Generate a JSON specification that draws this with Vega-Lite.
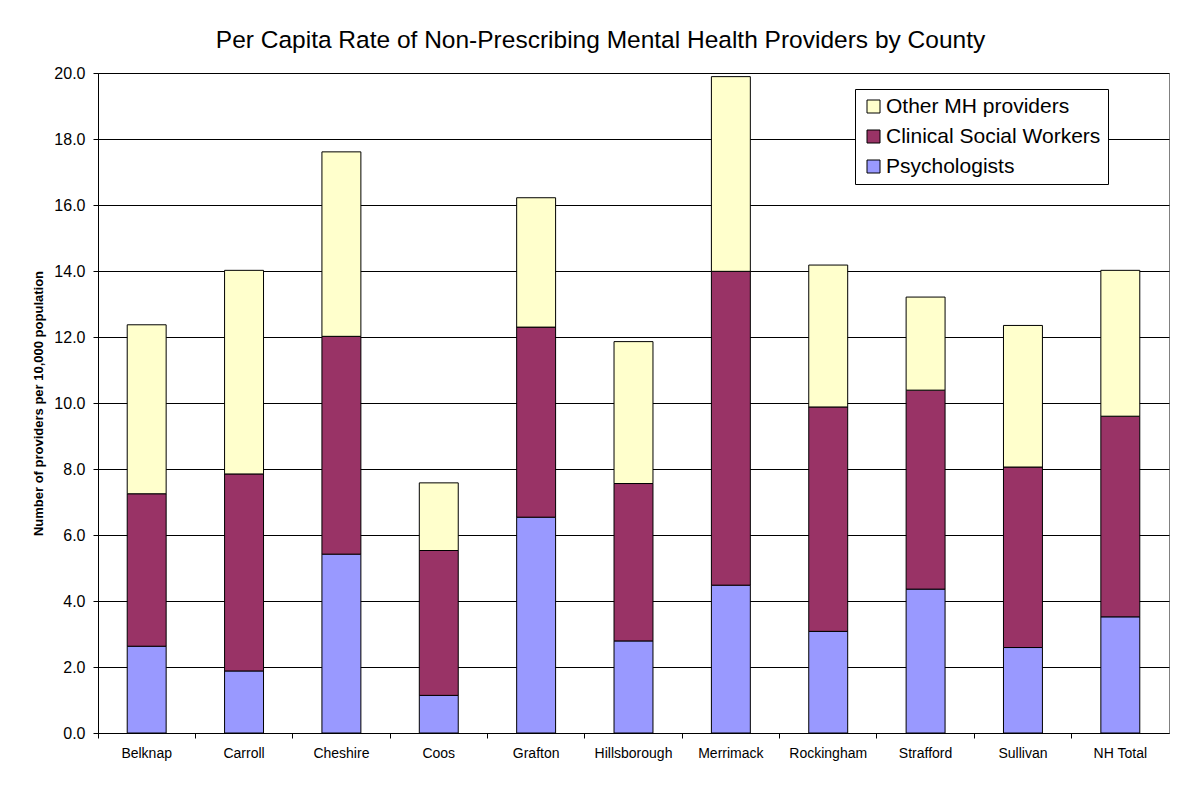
{
  "$schema": "https://vega.github.io/schema/vega-lite/v6.json",
  "autosize": "none",
  "width": 1071,
  "height": 660,
  "padding": {"left": 98, "top": 73, "right": 21, "bottom": 75},
  "background": "white",
  "title": {
    "text": "Per Capita Rate of Non-Prescribing Mental Health Providers by County",
    "font": "Liberation Sans",
    "fontSize": 24.5,
    "fontWeight": "normal",
    "color": "black",
    "anchor": "middle",
    "frame": "group",
    "dx": -33,
    "dy": 22,
    "baseline": "alphabetic",
    "offset": 15
  },
  "data": {
    "values": [
      {"county": "Belknap", "type": "Psychologists", "value": 2.63, "stack": 1},
      {"county": "Belknap", "type": "Clinical Social Workers", "value": 4.62, "stack": 2},
      {"county": "Belknap", "type": "Other MH providers", "value": 5.12, "stack": 3},
      {"county": "Carroll", "type": "Psychologists", "value": 1.88, "stack": 1},
      {"county": "Carroll", "type": "Clinical Social Workers", "value": 5.97, "stack": 2},
      {"county": "Carroll", "type": "Other MH providers", "value": 6.17, "stack": 3},
      {"county": "Cheshire", "type": "Psychologists", "value": 5.42, "stack": 1},
      {"county": "Cheshire", "type": "Clinical Social Workers", "value": 6.60, "stack": 2},
      {"county": "Cheshire", "type": "Other MH providers", "value": 5.59, "stack": 3},
      {"county": "Coos", "type": "Psychologists", "value": 1.14, "stack": 1},
      {"county": "Coos", "type": "Clinical Social Workers", "value": 4.39, "stack": 2},
      {"county": "Coos", "type": "Other MH providers", "value": 2.05, "stack": 3},
      {"county": "Grafton", "type": "Psychologists", "value": 6.54, "stack": 1},
      {"county": "Grafton", "type": "Clinical Social Workers", "value": 5.76, "stack": 2},
      {"county": "Grafton", "type": "Other MH providers", "value": 3.92, "stack": 3},
      {"county": "Hillsborough", "type": "Psychologists", "value": 2.79, "stack": 1},
      {"county": "Hillsborough", "type": "Clinical Social Workers", "value": 4.77, "stack": 2},
      {"county": "Hillsborough", "type": "Other MH providers", "value": 4.30, "stack": 3},
      {"county": "Merrimack", "type": "Psychologists", "value": 4.48, "stack": 1},
      {"county": "Merrimack", "type": "Clinical Social Workers", "value": 9.51, "stack": 2},
      {"county": "Merrimack", "type": "Other MH providers", "value": 5.90, "stack": 3},
      {"county": "Rockingham", "type": "Psychologists", "value": 3.08, "stack": 1},
      {"county": "Rockingham", "type": "Clinical Social Workers", "value": 6.80, "stack": 2},
      {"county": "Rockingham", "type": "Other MH providers", "value": 4.30, "stack": 3},
      {"county": "Strafford", "type": "Psychologists", "value": 4.36, "stack": 1},
      {"county": "Strafford", "type": "Clinical Social Workers", "value": 6.03, "stack": 2},
      {"county": "Strafford", "type": "Other MH providers", "value": 2.82, "stack": 3},
      {"county": "Sullivan", "type": "Psychologists", "value": 2.59, "stack": 1},
      {"county": "Sullivan", "type": "Clinical Social Workers", "value": 5.47, "stack": 2},
      {"county": "Sullivan", "type": "Other MH providers", "value": 4.29, "stack": 3},
      {"county": "NH Total", "type": "Psychologists", "value": 3.52, "stack": 1},
      {"county": "NH Total", "type": "Clinical Social Workers", "value": 6.08, "stack": 2},
      {"county": "NH Total", "type": "Other MH providers", "value": 4.42, "stack": 3}
    ]
  },
  "mark": {"type": "bar", "width": {"band": 0.4}, "stroke": "black", "strokeWidth": 1, "opacity": 1},
  "encoding": {
    "x": {
      "field": "county",
      "type": "nominal",
      "sort": null,
      "scale": {"paddingInner": 0, "paddingOuter": 0},
      "axis": {
        "title": null,
        "labelAngle": 0,
        "bandPosition": 0,
        "tickSize": 5,
        "tickColor": "black",
        "domainColor": "black",
        "labelFont": "Liberation Sans",
        "labelFontSize": 14,
        "labelColor": "black",
        "labelPadding": 8,
        "grid": false
      }
    },
    "y": {
      "field": "value",
      "type": "quantitative",
      "stack": "zero",
      "scale": {"domain": [0, 20], "nice": false},
      "axis": {
        "title": "Number of providers per 10,000 population",
        "titleFont": "Liberation Sans",
        "titleFontSize": 13,
        "titleFontWeight": "bold",
        "titleColor": "black",
        "titlePadding": 8,
        "values": [0, 2, 4, 6, 8, 10, 12, 14, 16, 18, 20],
        "format": ".1f",
        "labelFont": "Liberation Sans",
        "labelFontSize": 16,
        "labelColor": "black",
        "labelPadding": 8,
        "tickSize": 5,
        "tickColor": "black",
        "domainColor": "black",
        "grid": true,
        "gridColor": "black",
        "gridOpacity": 1,
        "gridWidth": 1
      }
    },
    "color": {
      "field": "type",
      "type": "nominal",
      "scale": {
        "domain": ["Other MH providers", "Clinical Social Workers", "Psychologists"],
        "range": ["#FFFFCC", "#993366", "#9999FF"]
      },
      "legend": {
        "title": null,
        "orient": "none",
        "legendX": 757,
        "legendY": 16,
        "padding": 7,
        "symbolOffset": 1,
        "fillColor": "white",
        "strokeColor": "black",
        "symbolType": "square",
        "symbolSize": 169,
        "symbolStrokeColor": "black",
        "symbolStrokeWidth": 1,
        "symbolOpacity": 1,
        "labelFont": "Liberation Sans",
        "labelFontSize": 21,
        "labelColor": "black",
        "labelOffset": 2,
        "rowPadding": 8,
        "labelLimit": 400
      }
    },
    "order": {"field": "stack", "type": "quantitative", "sort": "ascending"}
  },
  "config": {
    "view": {"stroke": "#808080", "strokeWidth": 1},
    "axis": {"domainWidth": 1, "tickWidth": 1}
  }
}
